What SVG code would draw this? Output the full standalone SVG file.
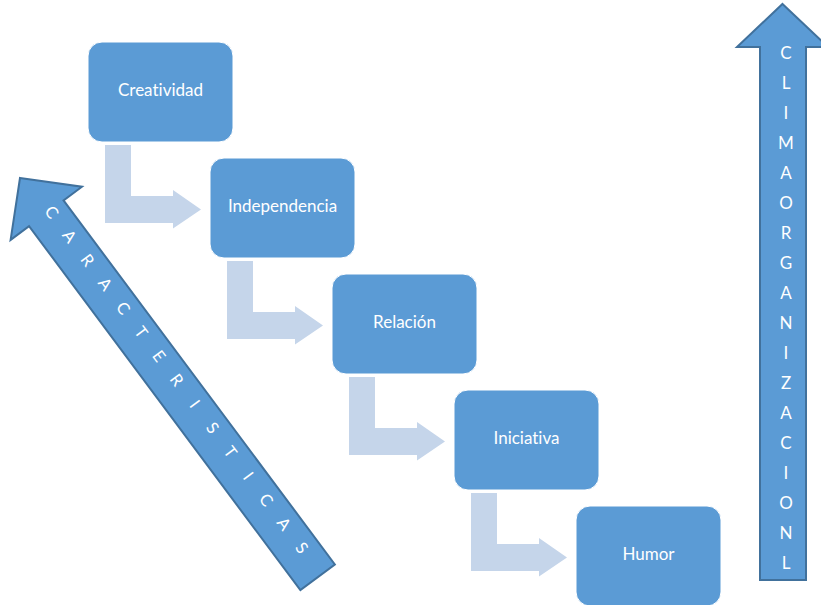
<svg xmlns="http://www.w3.org/2000/svg" width="821" height="605" viewBox="0 0 821 605">
<style>
.box{fill:#5B9BD5;stroke:#FFFFFF;stroke-width:1}
.lbl{font-family:Lato,"Open Sans","DejaVu Sans",sans-serif;font-size:17px;fill:#FFFFFF;text-anchor:middle;font-variant-ligatures:none}
.bend{fill:#C5D5EA;stroke:none}
.big{fill:#5B9BD5;stroke:#41719C;stroke-width:2;stroke-linejoin:miter}
.ltr{font-family:Lato,"Open Sans","DejaVu Sans",sans-serif;fill:#FFFFFF;text-anchor:middle}
</style>
<defs>
<path id="bent" d="M105,145 L131,145 L131,196 L173,196 L173,190 L201,209.5 L173,228.5 L173,223 L105,223 Z"/>
</defs>
<rect width="821" height="605" fill="#FFFFFF"/>
<g id="connectors">
<use href="#bent" class="bend"/>
<use href="#bent" class="bend" transform="translate(122,116)"/>
<use href="#bent" class="bend" transform="translate(244,232)"/>
<use href="#bent" class="bend" transform="translate(366,348)"/>
</g>
<g id="creatividad">
<rect class="box" x="88" y="42" width="145" height="100" rx="14"/>
<text class="lbl" x="160.5" y="96">Creatividad</text>
</g>
<g id="independencia">
<rect class="box" x="210" y="158" width="145" height="100" rx="14"/>
<text class="lbl" x="282.5" y="212">Independencia</text>
</g>
<g id="relacion">
<rect class="box" x="332" y="274" width="145" height="100" rx="14"/>
<text class="lbl" x="404.5" y="328">Relación</text>
</g>
<g id="iniciativa">
<rect class="box" x="454" y="390" width="145" height="100" rx="14"/>
<text class="lbl" x="526.5" y="444">Iniciativa</text>
</g>
<g id="humor">
<rect class="box" x="576" y="506" width="145" height="100" rx="14"/>
<text class="lbl" x="648.5" y="560">Humor</text>
</g>
<g id="caracteristicas" transform="translate(20,178) rotate(53.3)">
<path class="big" d="M0,0 L44,-44.5 L44,-21.5 L498,-21.5 L498,21.5 L44,21.5 L44,44.5 Z"/>
<text class="ltr" font-size="16.5" y="0.8" x="46.4 76.3 106.2 136.1 166 195.9 225.8 255.7 285.6 315.5 345.4 375.3 405.2 435.1 465">CARACTERISTICAS</text>
</g>
<g id="clima">
<path class="big" d="M782.5,4 L828,47 L806,47 L806,580 L760,580 L760,47 L737,47 Z"/>
<text class="ltr" font-size="17" x="786 786 786 786 786 786 786 786 786 786 786 786 786 786 786 786 786 786" y="59 89 119 149 179 209 239 269 299 329 359 389 419 449 479 509 539 569">CLIMAORGANIZACIONL</text>
</g>
</svg>
